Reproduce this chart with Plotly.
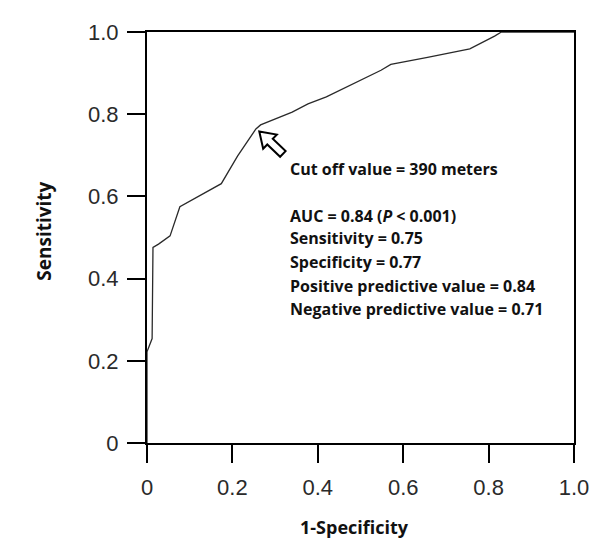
import plotly.graph_objects as go

# ROC curve
fpr = [0.0, 0.0, 0.012, 0.014, 0.027, 0.054, 0.077, 0.104, 0.174, 0.212, 0.255, 0.266,
       0.34, 0.377, 0.42, 0.548, 0.571, 0.657, 0.756, 0.814, 0.83, 1.0]
sens = [0.0, 0.222, 0.254, 0.476, 0.484, 0.504, 0.575, 0.591, 0.631, 0.698, 0.764, 0.774,
        0.805, 0.825, 0.842, 0.907, 0.921, 0.938, 0.959, 0.99, 1.0, 1.0]

tick_vals = [0, 0.2, 0.4, 0.6, 0.8, 1.0]
tick_text = ["0", "0.2", "0.4", "0.6", "0.8", "1.0"]

cutoff_point = [0.263, 0.758]  # where the hollow arrow points

stats_lines = [
    "Cut off value = 390 meters",
    "AUC = 0.84 (<i>P</i> < 0.001)",
    "Sensitivity = 0.75",
    "Specificity = 0.77",
    "Positive predictive value = 0.84",
    "Negative predictive value = 0.71",
]
stats_y = [0.667, 0.553, 0.498, 0.440, 0.383, 0.325]
stats_x = 0.331

# page body has an 8px default margin; compensate in the figure size/margins
W, H = 593, 533
ml, mr, mt, mb = 139, 22, 17, 98
plot_w = W - ml - mr
plot_h = H - mt - mb

fig = go.Figure()
fig.add_trace(go.Scatter(x=fpr, y=sens, mode="lines",
                         line=dict(color="#2a2a2a", width=1.3),
                         hoverinfo="skip", showlegend=False))

# hollow block arrow (pixel-sized geometry converted to data units)
pxx = 1.0 / plot_w
pxy = 1.0 / plot_h
ux, uy = 0.72, 0.69
n = (ux * ux + uy * uy) ** 0.5
ux, uy = ux / n, uy / n
vx, vy = -uy, ux
hl, hw, sw, L = 15, 10, 4, 33
pts_px = [(0, 0),
          (hl * ux + hw * vx, hl * uy + hw * vy),
          (hl * ux + sw * vx, hl * uy + sw * vy),
          (L * ux + sw * vx, L * uy + sw * vy),
          (L * ux - sw * vx, L * uy - sw * vy),
          (hl * ux - sw * vx, hl * uy - sw * vy),
          (hl * ux - hw * vx, hl * uy - hw * vy)]
tx, ty = cutoff_point
path = ""
for i, (px, py) in enumerate(pts_px):
    X = tx + px * pxx
    Y = ty - py * pxy
    path += ("M" if i == 0 else "L") + f"{X:.5f},{Y:.5f} "
path += "Z"
fig.add_shape(type="path", path=path, xref="x", yref="y",
              line=dict(color="black", width=2), fillcolor="white")

for t, yv in zip(stats_lines, stats_y):
    fig.add_annotation(x=stats_x, y=yv, xref="x", yref="y", text=t,
                       showarrow=False, xanchor="left", yanchor="middle",
                       font=dict(family="Open Sans", size=16, color="#111", weight="bold"))

# axis titles
fig.add_annotation(x=0, y=0.514, xref="paper", yref="paper", xshift=-103,
                   text="Sensitivity", textangle=-90, showarrow=False,
                   xanchor="center", yanchor="middle",
                   font=dict(family="Open Sans", size=19, color="#111", weight="bold"))
fig.add_annotation(x=0.486, y=0, xref="paper", yref="paper", yshift=-84,
                   text="1-Specificity", showarrow=False,
                   xanchor="center", yanchor="middle",
                   font=dict(family="Open Sans", size=18, color="#111", weight="bold"))

axis_common = dict(range=[0, 1], tickvals=tick_vals, ticktext=tick_text,
                   showline=True, linecolor="black", linewidth=2, mirror=True,
                   ticks="outside", ticklen=18, tickwidth=2, tickcolor="black",
                   showgrid=False, zeroline=False,
                   tickfont=dict(family="Liberation Sans", size=22, color="#2a2a2a"))

fig.update_layout(
    width=W, height=H,
    margin=dict(l=ml, r=mr, t=mt, b=mb),
    plot_bgcolor="white", paper_bgcolor="white",
    xaxis=dict(**axis_common, ticklabelstandoff=6),
    yaxis=dict(**axis_common, ticklabelstandoff=4),
)

fig.write_html("out.html")
